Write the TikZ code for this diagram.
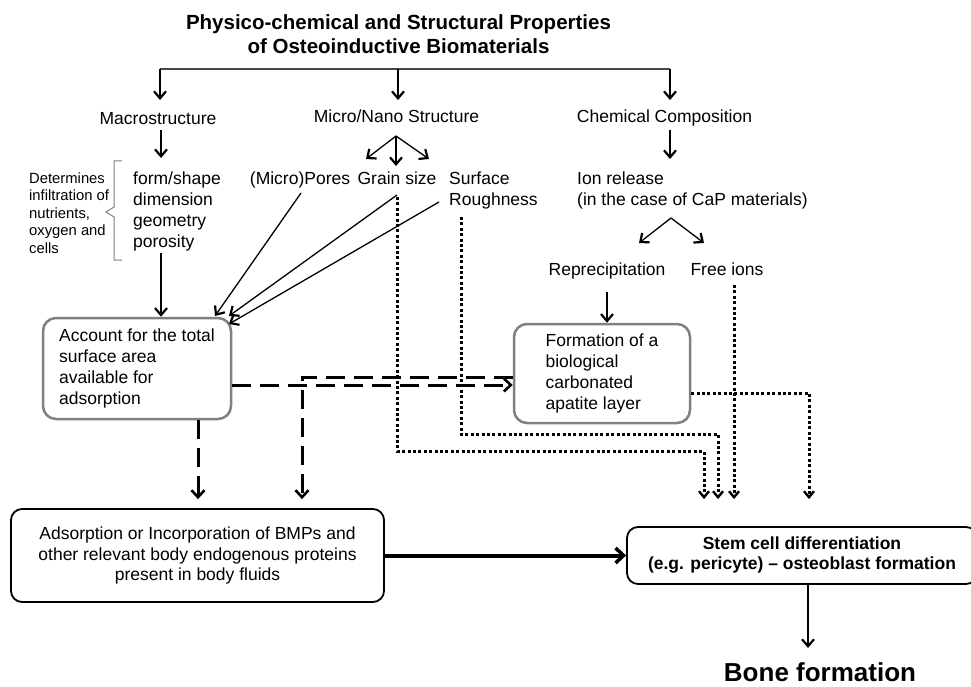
\documentclass[tikz,border=0pt]{standalone}
\usepackage{fontspec}
\setmainfont{Liberation Sans}
\usetikzlibrary{arrows.meta}
\definecolor{boxgray}{RGB}{128,128,128}
\definecolor{linegray}{RGB}{70,70,70}
\begin{document}
\begin{tikzpicture}[x=1pt,y=-1pt,
  txt/.style={inner sep=0pt, font=\fontsize{17.5}{21}\selectfont},
  smalltxt/.style={inner sep=0pt, font=\fontsize{14.8}{17.5}\selectfont},
  titletxt/.style={inner sep=0pt, font=\fontsize{20.5}{24}\selectfont\bfseries},
  bonetxt/.style={inner sep=0pt, font=\fontsize{26}{30}\selectfont\bfseries},
  graybox/.style={txt, draw=boxgray, line width=2.5pt, rounded corners=13pt, fill=white},
  blackbox/.style={txt, draw=black, line width=1.8pt, rounded corners=11pt, fill=white},
  arr/.style={line width=1.3pt, -{Straight Barb[length=7pt,width=12pt,line width=2.2pt]}},
  dotline/.style={line width=3pt, dash pattern=on 3pt off 2.4pt, -{Straight Barb[length=6pt,width=10pt,line width=2.4pt]}},
  dashline/.style={line width=3pt, dash pattern=on 19pt off 9pt, -{Straight Barb[length=7pt,width=13pt,line width=2.6pt]}},
  thickarr/.style={line width=4pt, -{Straight Barb[length=8pt,width=15pt,line width=3.5pt]}}
]
\clip (0,0) rectangle (971,687);
\fill[white] (0,0) rectangle (971,687);

% ---------- text nodes ----------
\node[titletxt, align=center] (title) at (398.5,34) {Physico-chemical and Structural Properties\\of Osteoinductive Biomaterials};
\node[txt, anchor=base] (macro) at (158,125) {Macrostructure};
\node[txt, anchor=base] (micro) at (396.5,123) {Micro/Nano Structure};
\node[txt, anchor=base] (chem) at (664.5,123) {Chemical Composition};
\node[txt, align=left, anchor=west] (form) at (133,211.4) {form/shape\\dimension\\geometry\\porosity};
\node[smalltxt, align=left, anchor=west] (det) at (29,213) {Determines\\infiltration of\\nutrients,\\oxygen and\\cells};
\node[txt, anchor=base] (pores) at (300,184.4) {(Micro)Pores};
\node[txt, anchor=base] (grain) at (397,184.4) {Grain size};
\node[txt, align=left, anchor=west] (rough) at (449,190) {Surface\\Roughness};
\node[txt, align=left, anchor=west] (ion) at (577,190) {Ion release\\(in the case of CaP materials)};
\node[txt, anchor=base] (reprec) at (607,275.4) {Reprecipitation};
\node[txt, anchor=base] (free) at (727,275.4) {Free ions};

% ---------- boxes ----------
\node[graybox, minimum width=188pt, minimum height=101pt, align=left] (acc) at (137,368.5) {Account for the total\\surface area\\available for\\adsorption};
\node[graybox, minimum width=176pt, minimum height=99pt, align=left] (apat) at (602,373.5) {Formation of a\\biological\\carbonated\\apatite layer};
\node[blackbox, minimum width=373pt, minimum height=93pt, align=center, font=\fontsize{17.5}{20.5}\selectfont] (bmp) at (197.5,555.5) {Adsorption or Incorporation of BMPs and\\other relevant body endogenous proteins\\present in body fluids};
\node[blackbox, minimum width=350pt, minimum height=57pt, align=center, font=\fontsize{17.5}{20}\selectfont\bfseries] (stem) at (802,555.5) {Stem cell differentiation\\(e.g. pericyte) – osteoblast formation};
\node[bonetxt, anchor=base] (bone) at (820,681) {Bone formation};

% ---------- top bar ----------
\coordinate (bL) at (160,69);
\coordinate (bM) at (398,69);
\coordinate (bR) at (670,69);
\draw[line width=1.3pt, linegray] (bL) -- (bR);
\draw[arr] (bL) -- (bL |- 0,100);
\draw[arr] (bM) -- (bM |- 0,100);
\draw[arr] (bR) -- (bR |- 0,100);

% ---------- thin arrows ----------
\coordinate (mS) at (396,136);
\draw[arr] (161,130) -- (161,158);
\draw[arr] (mS) -- (366,159);
\draw[arr] (mS) -- (396,166);
\draw[arr] (mS) -- (429,159);
\draw[arr] (670,130) -- (670,159);
\coordinate (iS) at (671,218);
\draw[arr] (iS) -- (639,243);
\draw[arr] (iS) -- (704,243);
\draw[arr] (607,292) -- (apat.north -| 607,0);
\draw[arr] (161,253) -- (acc.north -| 161,0);
\draw[arr] (301,193) -- (215,316);
\draw[arr] (397,195) -- (229,316);
\draw[arr] (439,202) -- (229,324);

% brace
\draw[line width=1pt, boxgray] (122,161) -- (114,161) -- (114,207) -- (106,212) -- (114,217) -- (114,260) -- (122,260);

% ---------- dashed ----------
\draw[dashline] (acc.east |- 0,385) -- (apat.west |- 0,385);
\draw[dashline, shorten >=9pt] (apat.west |- 0,377) -- (302,377) -- (302,0 |- bmp.north);
\draw[dashline, shorten >=9pt] (acc.south -| 198,0) -- (bmp.north -| 198,0);

% ---------- dotted ----------
\draw[dotline, shorten >=27pt] (397,197) -- (397,451) -- (704,451) -- (704,0 |- stem.north);
\draw[dotline, shorten >=27pt] (461,217) -- (461,434) -- (718,434) -- (718,0 |- stem.north);
\draw[dotline, shorten >=27pt] (734,285) -- (734,0 |- stem.north);
\draw[dotline, shorten >=27pt] (apat.east |- 0,393) -- (809,393) -- (809,0 |- stem.north);

% ---------- bottom ----------
\draw[thickarr] (bmp.east) -- (stem.west);
\draw[arr, line width=1.8pt, shorten >=14pt] (stem.south -| 808,0) -- (bone.north -| 808,0);
\end{tikzpicture}
\end{document}
